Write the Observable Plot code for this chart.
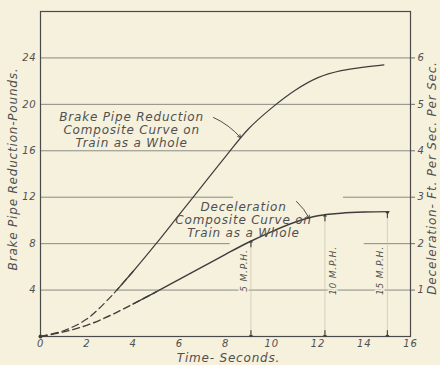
<!DOCTYPE html>
<html>
<head>
<meta charset="utf-8">
<script src="https://cdn.jsdelivr.net/npm/d3@7"></script>
<script src="https://cdn.jsdelivr.net/npm/@observablehq/plot@0.6"></script>
<style>
  html, body { margin: 0; padding: 0; background: #f6f1dc; }
  svg text { letter-spacing: 0.8px; }
</style>
</head>
<body>
<div id="chart"></div>
<script>
// ---- data ----
const xTicks = [0, 2, 4, 6, 8, 10, 12, 14, 16];
const brakeTicks = [4, 8, 12, 16, 20, 24];          // pounds (left axis)
const decelTicks = [1, 2, 3, 4, 5, 6];              // ft/sec/sec (right axis)

const brakeTime = [0, 1, 2, 3, 3.3, 4, 5, 6, 7, 8, 9, 10, 11, 12, 13, 14, 14.85];
const brakeReduction = [0, 0.5, 1.5, 3.35, 4.0, 5.6, 8.0, 10.5, 13.0, 15.5, 17.9, 19.7, 21.2, 22.3, 22.9, 23.2, 23.4];
const brakeDashEnd = 3.3;

const decelTime = [0, 1, 2, 3, 4, 5, 6, 7, 8, 9, 10, 11, 12, 13, 14, 15.07];
const deceleration = [0, 0.1, 0.24, 0.45, 0.7, 0.96, 1.23, 1.5, 1.77, 2.03, 2.26, 2.46, 2.6, 2.655, 2.68, 2.69];
const decelDashEnd = 4.0;

const mphLabels = ["5 M.P.H.", "10 M.P.H.", "15 M.P.H."];
const mphTime = [9.1, 12.3, 15.0];
const mphDecel = [2.06, 2.62, 2.69];

// gridlines (pounds) with the gaps left around the hand lettering
const gridY  = [4, 8, 8, 12, 12, 16, 20, 24];
const gridX1 = [0, 0, 14.0, 0, 13.1, 0, 0, 0];
const gridX2 = [16, 8.2, 16, 8.35, 16, 16, 16, 16];

const brakeNote = "Brake Pipe Reduction\nComposite Curve on\nTrain as a Whole";
const brakeNoteAt = [3.94, 17.83];
const brakeLeader = [7.48, 18.87, 8.65, 17.14];
const decelNote = "Deceleration\nComposite Curve on\nTrain as a Whole";
const decelNoteAt = [8.78, 2.52];
const decelLeader = [11.07, 2.91, 11.62, 2.55];

const xTitle = "Time- Seconds.";
const leftTitle = "Brake Pipe Reduction-Pounds.";
const rightTitle = "Deceleration- Ft. Per Sec. Per Sec.";

// ---- tables built from the arrays ----
const brake = brakeTime.map((t, i) => ({t, v: brakeReduction[i]}));
const decel = decelTime.map((t, i) => ({t, v: deceleration[i]}));
const mph = mphTime.map((t, i) => ({t, d: mphDecel[i], label: mphLabels[i]}));
const grid = gridY.map((y, i) => ({y, x1: gridX1[i], x2: gridX2[i]}));
const k = 4; // 1 ft/sec/sec = 4 lb on the shared vertical scale

// dashed part runs one point past the split (hidden under the solid part)
function dashedPart(rows, end) {
  const i = rows.findIndex(d => d.t > end);
  return rows.slice(0, i + 1);
}

const ink = "#3d3d3d";
const textInk = "#505050";
const font = "DejaVu Sans";

const chart = Plot.plot({
  width: 440,
  height: 365,
  marginLeft: 40,
  marginRight: 30,
  marginTop: 11,
  marginBottom: 29,
  style: {background: "#f6f1dc", fontFamily: font, fontStyle: "italic", color: textInk, overflow: "visible"},
  x: {domain: [0, 16]},
  y: {domain: [0, 28]},
  marks: [
    Plot.ruleY(grid, {y: "y", x1: "x1", x2: "x2", stroke: "#6e6e6e", strokeWidth: 0.8}),
    Plot.frame({stroke: "#4a4a4a", strokeWidth: 1.2}),
    Plot.axisX(xTicks, {tickSize: 0, tickPadding: 3, fontSize: 10, fill: textInk, label: null}),
    Plot.axisY(brakeTicks, {anchor: "left", tickSize: 0, tickPadding: 4, fontSize: 10, fill: textInk, label: null}),
    Plot.axisY(decelTicks.map(d => d * k), {anchor: "right", tickSize: 4, tickPadding: 3, fontSize: 10, fill: textInk, stroke: "#6e6e6e", tickFormat: d => d / k, label: null}),

    // MPH markers
    Plot.ruleX(mph, {x: "t", y1: 0, y2: d => d.d * k, stroke: "#c9c3ad", strokeWidth: 0.7}),
    Plot.vector(mph, {x: "t", y: d => d.d * k, rotate: 0, length: 6, anchor: "end", stroke: ink, strokeWidth: 1.1}),
    Plot.vector(mph, {x: "t", y: 0, rotate: 180, length: 6, anchor: "end", stroke: ink, strokeWidth: 1.1}),
    Plot.text(mph, {filter: (d, i) => i !== 1, x: "t", y: 1.42 * k, text: "label", rotate: -90, dx: -7, fontSize: 9, fill: textInk, stroke: "#f6f1dc", strokeWidth: 3}),
    Plot.text(mph, {filter: (d, i) => i === 1, x: "t", y: 1.42 * k, text: "label", rotate: -90, dx: 8, fontSize: 9, fill: textInk, stroke: "#f6f1dc", strokeWidth: 3}),

    // curves
    Plot.line(dashedPart(brake, brakeDashEnd), {x: "t", y: "v", curve: "catmull-rom", stroke: ink, strokeWidth: 1.2, strokeDasharray: "7,4"}),
    Plot.line(brake.filter(d => d.t >= brakeDashEnd), {x: "t", y: "v", curve: "catmull-rom", stroke: ink, strokeWidth: 1.2}),
    Plot.line(dashedPart(decel, decelDashEnd), {x: "t", y: d => d.v * k, curve: "catmull-rom", stroke: ink, strokeWidth: 1.4, strokeDasharray: "7,4"}),
    Plot.line(decel.filter(d => d.t >= decelDashEnd), {x: "t", y: d => d.v * k, curve: "catmull-rom", stroke: ink, strokeWidth: 1.4}),
    Plot.dot([brake[0]], {x: "t", y: "v", r: 2, fill: ink}),

    // annotations
    Plot.text([brakeNote], {x: brakeNoteAt[0], y: brakeNoteAt[1], text: d => d, fontSize: 12, lineHeight: 1.1, fill: textInk}),
    Plot.arrow([brakeLeader], {x1: d => d[0], y1: d => d[1], x2: d => d[2], y2: d => d[3], bend: 12, headLength: 5, stroke: ink, strokeWidth: 0.9}),
    Plot.text([decelNote], {x: decelNoteAt[0], y: decelNoteAt[1] * k, text: d => d, fontSize: 12, lineHeight: 1.1, fill: textInk}),
    Plot.arrow([decelLeader], {x1: d => d[0], y1: d => d[1] * k, x2: d => d[2], y2: d => d[3] * k, bend: 10, headLength: 5, stroke: ink, strokeWidth: 0.9}),

    // axis titles
    Plot.text([xTitle], {frameAnchor: "bottom", text: d => d, dx: 3, dy: 25, fontSize: 12, fill: textInk}),
    Plot.text([leftTitle], {frameAnchor: "left", textAnchor: "middle", text: d => d, rotate: -90, dx: -27, dy: -5, fontSize: 12, fill: textInk}),
    Plot.text([rightTitle], {frameAnchor: "right", textAnchor: "middle", text: d => d, rotate: -90, dx: 22, dy: 4, fontSize: 12, fill: textInk})
  ]
});
document.getElementById("chart").append(chart);
</script>
</body>
</html>
